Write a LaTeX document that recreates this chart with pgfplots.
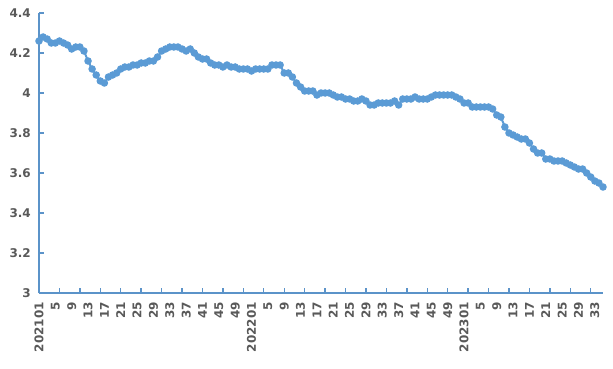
\documentclass[border=0pt]{standalone}
\usepackage{pgfplots}
\pgfplotsset{compat=1.18}
\usepackage{fontspec}
\setmainfont{DejaVu Sans}
\definecolor{lineblue}{HTML}{5B9BD5}
\definecolor{axisblue}{HTML}{5B93C9}
\definecolor{labgray}{HTML}{595959}
\begin{document}
\begin{tikzpicture}
\useasboundingbox (0,0) rectangle (613pt,368pt);
\begin{axis}[
  at={(39pt,75pt)}, anchor=south west,
  scale only axis, width=564pt, height=280pt,
  xmin=0, xmax=138, ymin=3, ymax=4.4,
  clip=false,
  axis x line=bottom, axis y line=left,
  x axis line style={-, draw=axisblue, line width=1.6pt},
  y axis line style={-, draw=axisblue, line width=1.6pt},
  tick align=inside,
  major tick length=5pt,
  tick style={draw=axisblue, line width=1.4pt},
  ytick={3,3.2,3.4,3.6,3.8,4,4.2,4.4},
  yticklabels={3,3.2,3.4,3.6,3.8,4,4.2,4.4},
  xtick={0,5,...,135},
  xticklabel=\empty,
  extra x ticks={0,4,...,136},
  extra x tick labels={202101,5,9,13,17,21,25,29,33,37,41,45,49,202201,5,9,13,17,21,25,29,33,37,41,45,49,202301,5,9,13,17,21,25,29,33},
  extra x tick style={major tick length=0pt},
  ticklabel style={font=\bfseries\fontsize{12}{12}\selectfont, text=labgray},
  x tick label style={rotate=90, anchor=east, inner sep=0pt, xshift=0pt},
  xticklabel shift=9pt,
  y tick label style={inner sep=0pt},
  yticklabel shift=8pt,
  /pgf/number format/assume math mode=true,
]
\addplot[color=lineblue, line width=2pt, mark=*, mark size=2.7pt, mark options={fill=lineblue, draw=lineblue}] coordinates {
(0,4.26)(1,4.28)(2,4.27)(3,4.25)(4,4.25)(5,4.26)(6,4.25)(7,4.24)(8,4.22)(9,4.23)
(10,4.23)(11,4.21)(12,4.16)(13,4.12)(14,4.09)(15,4.06)(16,4.05)(17,4.08)(18,4.09)(19,4.10)
(20,4.12)(21,4.13)(22,4.13)(23,4.14)(24,4.14)(25,4.15)(26,4.15)(27,4.16)(28,4.16)(29,4.18)
(30,4.21)(31,4.22)(32,4.23)(33,4.23)(34,4.23)(35,4.22)(36,4.21)(37,4.22)(38,4.20)(39,4.18)
(40,4.17)(41,4.17)(42,4.15)(43,4.14)(44,4.14)(45,4.13)(46,4.14)(47,4.13)(48,4.13)(49,4.12)
(50,4.12)(51,4.12)(52,4.11)(53,4.12)(54,4.12)(55,4.12)(56,4.12)(57,4.14)(58,4.14)(59,4.14)
(60,4.10)(61,4.10)(62,4.08)(63,4.05)(64,4.03)(65,4.01)(66,4.01)(67,4.01)(68,3.99)(69,4.00)
(70,4.00)(71,4.00)(72,3.99)(73,3.98)(74,3.98)(75,3.97)(76,3.97)(77,3.96)(78,3.96)(79,3.97)
(80,3.96)(81,3.94)(82,3.94)(83,3.95)(84,3.95)(85,3.95)(86,3.95)(87,3.96)(88,3.94)(89,3.97)
(90,3.97)(91,3.97)(92,3.98)(93,3.97)(94,3.97)(95,3.97)(96,3.98)(97,3.99)(98,3.99)(99,3.99)
(100,3.99)(101,3.99)(102,3.98)(103,3.97)(104,3.95)(105,3.95)(106,3.93)(107,3.93)(108,3.93)(109,3.93)
(110,3.93)(111,3.92)(112,3.89)(113,3.88)(114,3.83)(115,3.80)(116,3.79)(117,3.78)(118,3.77)(119,3.77)
(120,3.75)(121,3.72)(122,3.70)(123,3.70)(124,3.67)(125,3.67)(126,3.66)(127,3.66)(128,3.66)(129,3.65)
(130,3.64)(131,3.63)(132,3.62)(133,3.62)(134,3.60)(135,3.58)(136,3.56)(137,3.55)(138,3.53)
};
\end{axis}
\end{tikzpicture}
\end{document}
